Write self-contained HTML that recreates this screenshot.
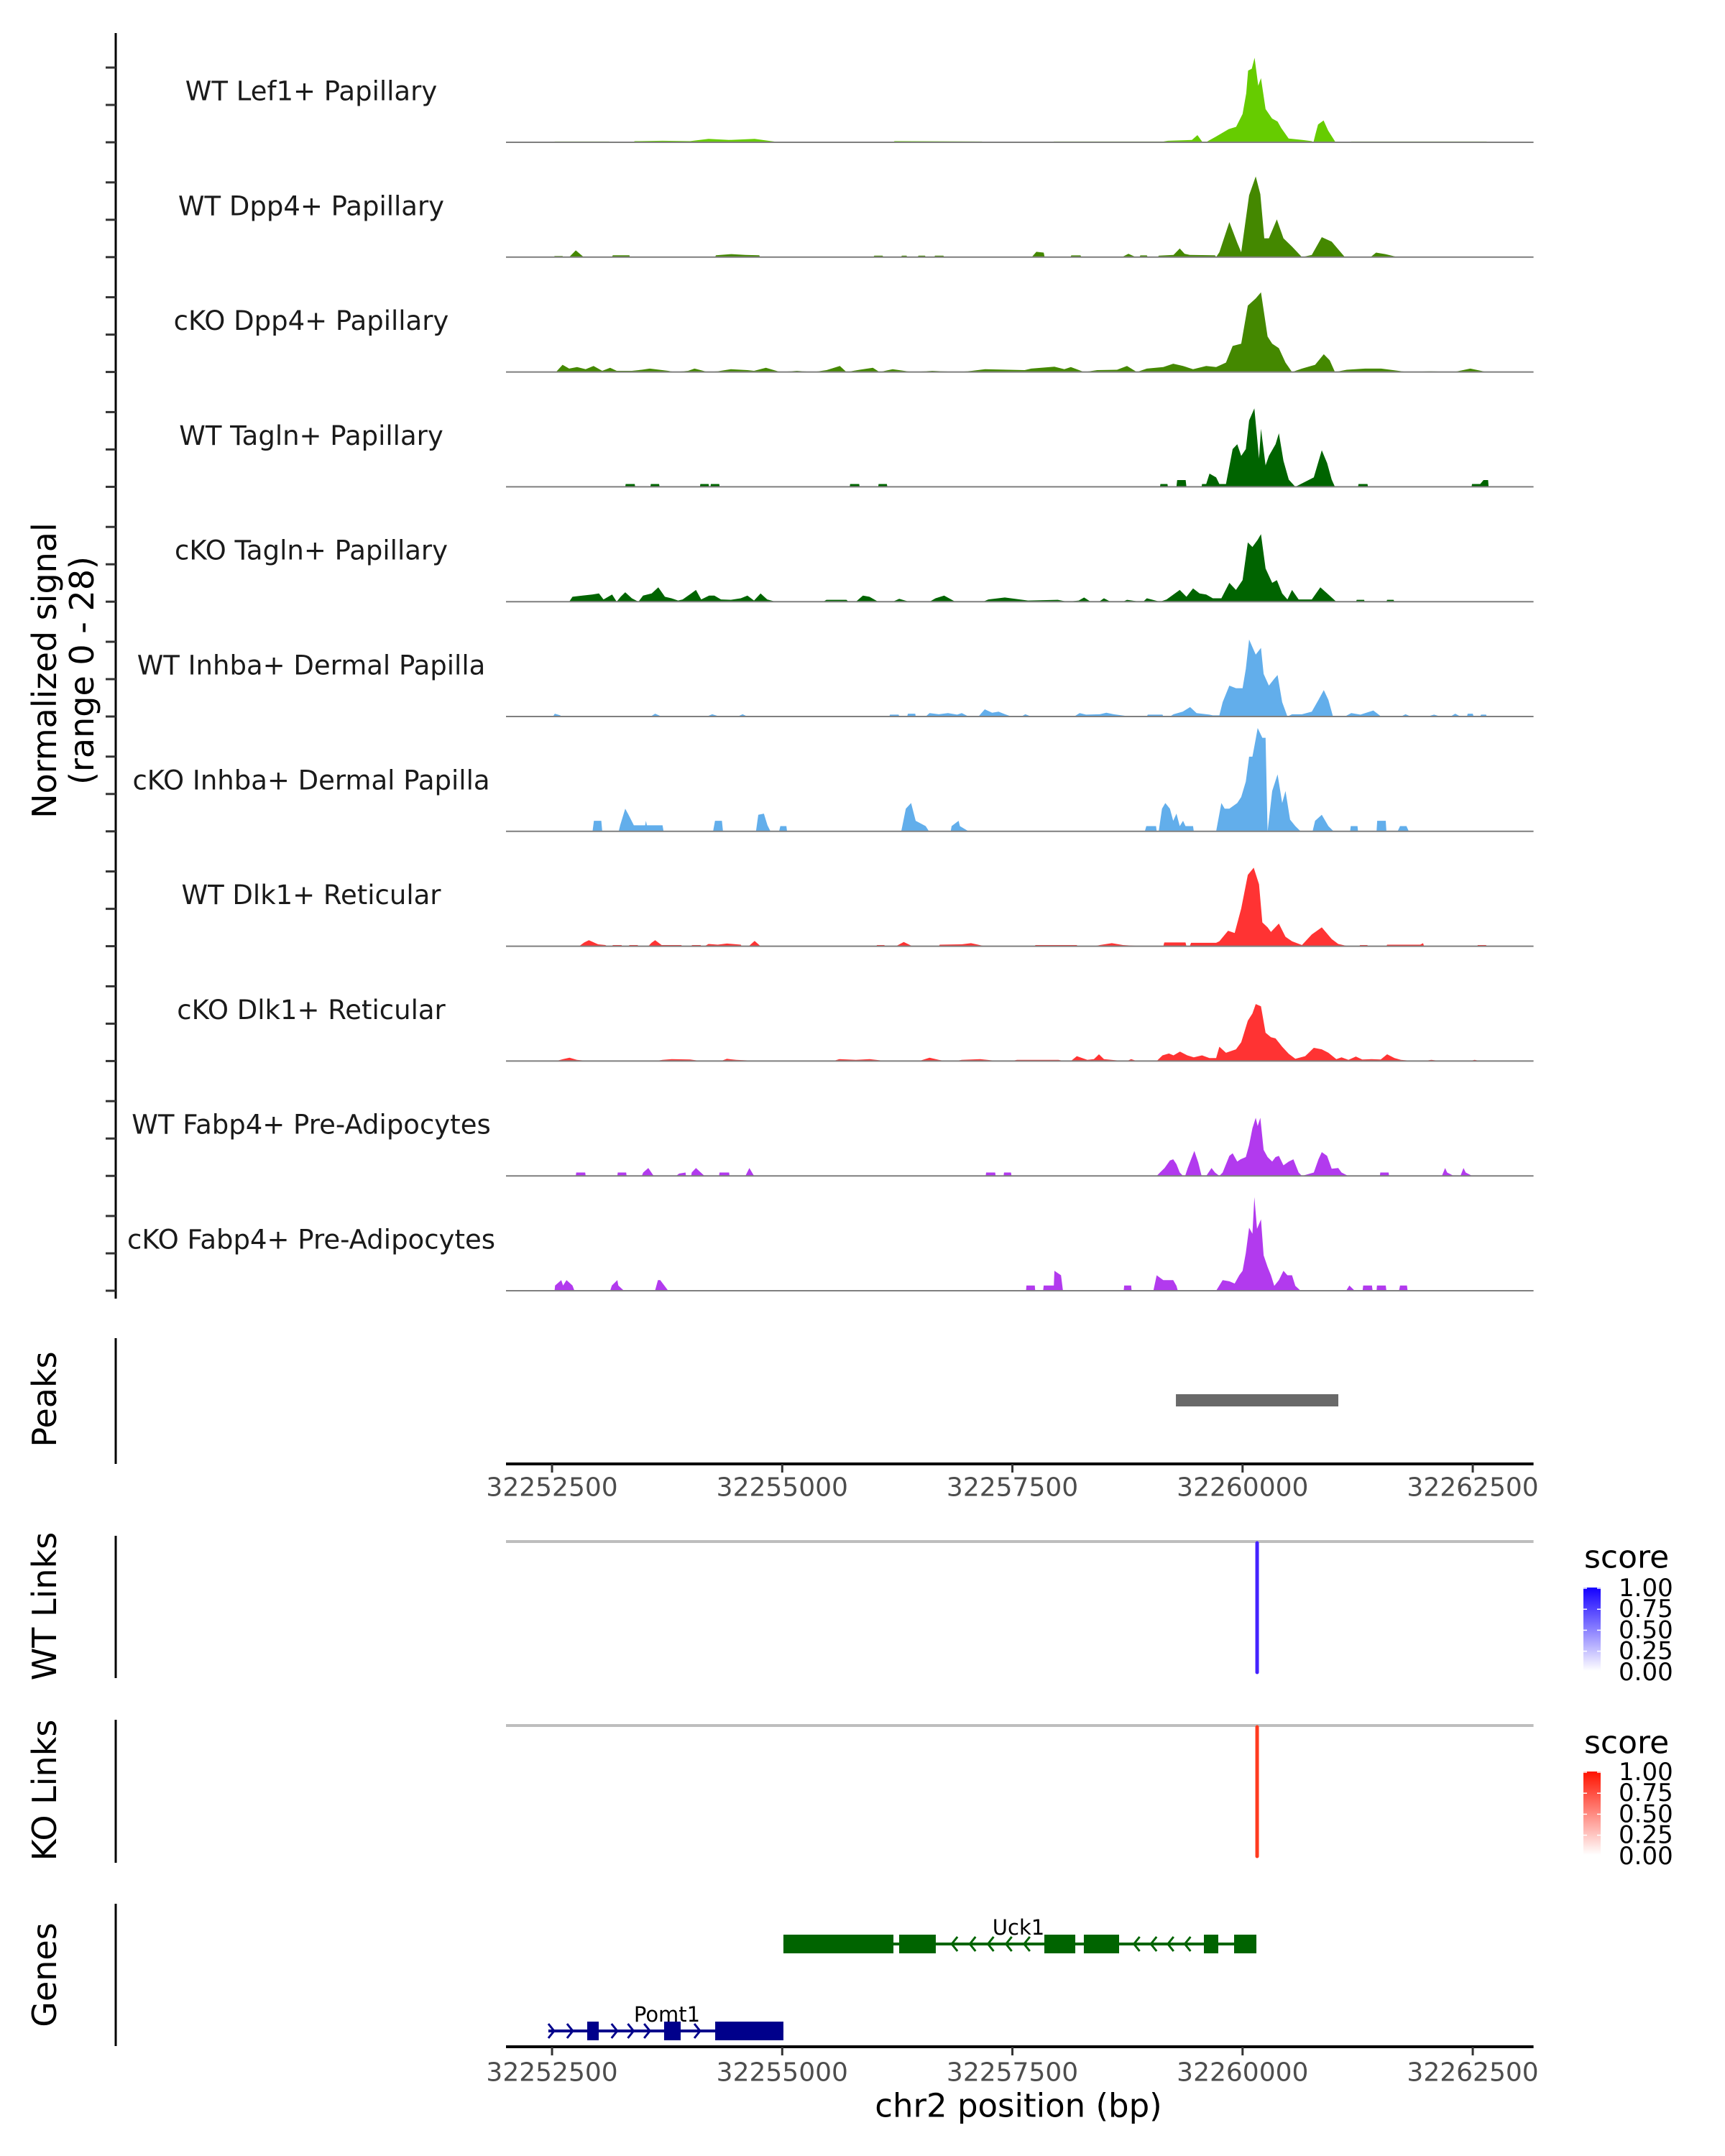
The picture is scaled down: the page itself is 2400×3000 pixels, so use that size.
<!DOCTYPE html>
<html><head><meta charset="utf-8"><style>
html,body{margin:0;padding:0;background:#fff;}
svg{display:block;font-family:"DejaVu Sans","Liberation Sans",sans-serif;}
</style></head><body>
<svg id="chart" width="2400" height="3000" viewBox="0 0 2400 3000" xmlns="http://www.w3.org/2000/svg">
<rect width="2400" height="3000" fill="#fff"/>
<g id="tracks"></g>
<line x1="161" y1="46" x2="161" y2="1807" stroke="#000" stroke-width="3"/>
<g id="yticks"></g>
<text transform="translate(62,933) rotate(-90)" text-anchor="middle" dominant-baseline="central" font-size="46" fill="#000">Normalized signal</text>
<text transform="translate(114,933) rotate(-90)" text-anchor="middle" dominant-baseline="central" font-size="46" fill="#000">(range 0 - 28)</text>

<line x1="161" y1="1862" x2="161" y2="2037" stroke="#000" stroke-width="3"/>
<text transform="translate(62,1947) rotate(-90)" text-anchor="middle" dominant-baseline="central" font-size="46">Peaks</text>
<g id="peaks"></g>
<g id="xaxis1"></g>

<line x1="161" y1="2137" x2="161" y2="2335" stroke="#000" stroke-width="3"/>
<text transform="translate(62,2235) rotate(-90)" text-anchor="middle" dominant-baseline="central" font-size="46">WT Links</text>
<line x1="161" y1="2393" x2="161" y2="2592" stroke="#000" stroke-width="3"/>
<text transform="translate(62,2491) rotate(-90)" text-anchor="middle" dominant-baseline="central" font-size="46">KO Links</text>
<g id="links"></g>

<defs>
<linearGradient id="gblue" x1="0" y1="1" x2="0" y2="0"><stop offset="0" stop-color="#ffffff"/><stop offset="1" stop-color="#1400ff"/></linearGradient>
<linearGradient id="gred" x1="0" y1="1" x2="0" y2="0"><stop offset="0" stop-color="#ffffff"/><stop offset="1" stop-color="#ff1200"/></linearGradient>
</defs>
<g id="legends"></g>

<line x1="161" y1="2649" x2="161" y2="2847" stroke="#000" stroke-width="3"/>
<text transform="translate(62,2748) rotate(-90)" text-anchor="middle" dominant-baseline="central" font-size="46">Genes</text>
<g id="genes"></g>
<g id="xaxis2"></g>
<text x="1417" y="2930" text-anchor="middle" dominant-baseline="central" font-size="45">chr2 position (bp)</text>
</svg>
<script>
// positions: bp offset from region start (chr2:32252000); values: normalized signal
const regionStart = 32252000;
const regionEnd = 32263160;
const trackNames = ["WT Lef1+ Papillary","WT Dpp4+ Papillary","cKO Dpp4+ Papillary","WT Tagln+ Papillary","cKO Tagln+ Papillary","WT Inhba+ Dermal Papilla","cKO Inhba+ Dermal Papilla","WT Dlk1+ Reticular","cKO Dlk1+ Reticular","WT Fabp4+ Pre-Adipocytes","cKO Fabp4+ Pre-Adipocytes"];
const trackColors = ["#66cc00","#448800","#448800","#006400","#006400","#62aeeb","#62aeeb","#ff3333","#ff3333","#b23aee","#b23aee"];
const xTicks = [32252500,32255000,32257500,32260000,32262500];
const yTickValues = [0,10,20];

const sigLef1WT = [[500,0],[530,0.2],[1120,0.2],[1130,0],[1370,0],[1400,0.3],[1700,0.4],[2000,0.3],[2200,0.9],[2420,0.6],[2700,0.9],[2850,0.4],[2980,0],[4200,0],[4220,0.3],[5170,0.2],[5200,0],[5920,0],[5950,0.2],[7140,0.2],[7190,0.4],[7450,0.6],[7510,1.9],[7560,0.2],[7600,0],[7710,1.5],[7850,3.5],[7930,4.1],[8000,7.5],[8040,13],[8060,19],[8100,19.5],[8130,22.4],[8170,15],[8200,17],[8250,8.8],[8320,6.3],[8380,5.5],[8420,3.8],[8500,1],[8650,0.6],[8750,0.3],[8770,0],[8790,2],[8820,4.7],[8880,5.8],[8930,3.1],[9010,0],[9150,0],[9180,0.2],[10650,0.2],[10680,0]];
const sigDpp4WT = [[520,0],[528,0.3],[614,0.3],[620,0],[686,0],[758,1.8],[844,0],[1150,0],[1160,0.5],[1340,0.5],[1346,0],[2270,0],[2280,0.5],[2450,0.8],[2600,0.6],[2750,0.5],[2760,0],[3990,0],[4000,0.4],[4090,0.4],[4100,0],[4290,0],[4300,0.4],[4350,0.4],[4360,0],[4470,0],[4480,0.4],[4550,0.4],[4560,0],[4650,0],[4660,0.4],[4750,0.4],[4760,0],[5710,0],[5760,1.4],[5840,1.2],[5850,0],[6130,0],[6140,0.45],[6240,0.45],[6250,0],[6690,0],[6760,0.9],[6840,0],[6880,0],[6890,0.45],[6960,0.45],[6970,0],[7080,0],[7090,0.4],[7250,0.6],[7318,2.3],[7370,0.9],[7426,0.6],[7700,0.5],[7713,0],[7748,1.3],[7856,9.3],[7942,3.8],[7985,1.3],[8071,16.4],[8143,21.4],[8193,16.7],[8236,5],[8286,5],[8372,10],[8444,5],[8537,2.8],[8645,0],[8752,0.6],[8860,5.3],[8968,4.1],[9111,0],[9390,0],[9450,1.2],[9550,0.8],[9684,0]];
const sigDpp4KO = [[543,0],[614,1.9],[686,0.9],[772,1.3],[865,0.75],[951,1.6],[1045,0.3],[1131,1.1],[1202,0.3],[1367,0.3],[1475,0.6],[1561,0.9],[1762,0.3],[1833,0],[1977,0.3],[2048,0.9],[2192,0],[2299,0.2],[2443,0.75],[2622,0.5],[2694,0.3],[2823,1.1],[2980,0],[3160,0.3],[3339,0],[3482,0.5],[3626,1.6],[3697,0],[3841,0.6],[3984,1.1],[4056,0],[4199,0.75],[4414,0],[4630,0.3],[4916,0],[5060,0.3],[5203,0.75],[5633,0.5],[5705,0.9],[5956,1.4],[6064,0.75],[6135,1.3],[6279,0],[6422,0.5],[6637,0.6],[6745,1.6],[6852,0],[6960,0.9],[7139,1.3],[7247,2.2],[7354,1.6],[7462,0.75],[7605,1.6],[7713,1.3],[7820,2.5],[7892,6.9],[7985,7.5],[8057,17.6],[8143,19.5],[8200,21.1],[8272,9.4],[8322,7.5],[8394,6.3],[8466,2.5],[8537,0],[8645,0.9],[8788,1.9],[8882,4.7],[8946,3.1],[9003,0],[9132,0.6],[9330,0.9],[9505,0.9],[9792,0],[10043,0.2],[10294,0],[10473,0.9],[10652,0]];
const sigTaglnWT = [[1295,0],[1300,0.75],[1398,0.75],[1403,0],[1568,0],[1573,0.75],[1663,0.75],[1668,0],[2106,0],[2111,0.75],[2201,0.75],[2206,0],[2220,0],[2225,0.75],[2316,0.75],[2321,0],[3733,0],[3738,0.75],[3836,0.75],[3841,0],[4042,0],[4047,0.75],[4137,0.75],[4142,0],[7103,0],[7108,0.75],[7184,0.75],[7189,0],[7282,0],[7290,1.8],[7382,1.8],[7390,0],[7555,0],[7560,0.75],[7605,0.75],[7641,3.5],[7713,2.5],[7748,0.75],[7820,0.75],[7892,10],[7942,11.3],[7985,8.2],[8035,10],[8071,17.6],[8128,20.8],[8179,7.5],[8200,15.4],[8250,5.7],[8286,8.2],[8358,11.3],[8394,14.2],[8444,6.9],[8502,1.9],[8573,0],[8774,2.5],[8860,9.7],[8918,6.3],[8968,1.9],[9003,0],[9254,0],[9259,0.75],[9357,0.75],[9362,0],[10487,0],[10492,0.75],[10581,0.75],[10617,1.8],[10667,1.8],[10672,0]];
const sigTaglnKO = [[686,0],[722,1.3],[829,1.6],[937,1.9],[1009,2.2],[1059,0.6],[1152,1.9],[1202,0],[1245,1.3],[1295,2.5],[1367,0.9],[1439,0],[1489,1.6],[1582,2.2],[1654,3.8],[1726,1.3],[1797,0.9],[1869,0.3],[1919,0.6],[2012,2.2],[2063,3.1],[2120,0.6],[2206,1.6],[2263,1.6],[2335,0.6],[2443,0.5],[2550,0.9],[2622,1.6],[2694,0.3],[2765,2.2],[2837,0.6],[2930,0],[3446,0],[3480,0.5],[3697,0.5],[3720,0],[3800,0],[3877,1.6],[3948,1.3],[4042,0],[4200,0],[4271,0.75],[4379,0],[4600,0],[4665,0.9],[4759,1.6],[4880,0],[5180,0],[5239,0.6],[5418,1.1],[5669,0.3],[5992,0.5],[6099,0],[6221,0.3],[6279,1.1],[6350,0],[6440,0],[6494,0.9],[6566,0],[6700,0],[6745,0.5],[6888,0],[6920,0],[6960,0.9],[7103,0],[7175,0.6],[7318,3.1],[7390,1.3],[7462,3.5],[7533,2.2],[7605,1.9],[7677,0.9],[7770,0.9],[7856,5],[7928,3.1],[8000,5.7],[8057,15.7],[8107,14.5],[8164,16.4],[8200,17.9],[8250,8.8],[8322,5],[8372,5.7],[8430,2.2],[8487,0.6],[8537,3.1],[8609,0.6],[8752,0.6],[8845,3.8],[8932,1.9],[9018,0],[9233,0],[9240,0.5],[9320,0.5],[9326,0],[9562,0],[9570,0.5],[9640,0.5],[9648,0]];
const sigInhbaWT = [[510,0],[530,0.75],[590,0.3],[600,0],[1570,0],[1620,0.75],[1690,0],[2180,0],[2240,0.6],[2320,0],[2515,0],[2570,0.6],[2622,0],[4163,0],[4170,0.5],[4265,0.5],[4271,0],[4357,0],[4365,0.75],[4445,0.75],[4450,0],[4558,0],[4600,0.9],[4700,0.6],[4800,0.9],[4900,0.5],[4950,0.9],[5024,0],[5131,0],[5200,1.9],[5280,1],[5350,1.3],[5420,0.6],[5490,0],[5597,0],[5640,0.6],[5705,0],[6171,0],[6230,0.9],[6300,0.5],[6450,0.6],[6520,1],[6600,0.6],[6780,0],[6960,0],[6970,0.5],[7130,0.5],[7139,0],[7211,0],[7250,0.6],[7350,1.3],[7430,2.5],[7500,0.9],[7641,0.5],[7677,0.3],[7748,0.3],[7784,3.8],[7856,8.2],[7928,7.5],[8000,7.5],[8035,12.6],[8071,20.4],[8143,16.4],[8200,18.2],[8229,11.3],[8286,8.2],[8344,10],[8380,11],[8430,3.8],[8487,0],[8537,0.6],[8645,0.6],[8752,1.3],[8824,4.4],[8882,7],[8932,4.4],[8982,0],[9111,0],[9180,0.9],[9280,0.5],[9420,1.6],[9505,0],[9720,0],[9770,0.6],[9828,0],[10007,0],[10080,0.5],[10150,0],[10258,0],[10310,0.75],[10366,0],[10437,0],[10445,0.75],[10500,0.75],[10509,0],[10581,0],[10590,0.5],[10645,0.5],[10652,0]];
const sigInhbaKO = [[940,0],[955,2.8],[1035,2.8],[1045,0],[1224,0],[1240,1.6],[1295,6],[1331,4.4],[1389,1.6],[1511,1.6],[1520,2.8],[1530,1.6],[1700,1.6],[1711,0],[2249,0],[2270,2.8],[2345,2.8],[2357,0],[2715,0],[2740,4.4],[2801,4.7],[2840,1.6],[2873,0],[2966,0],[2980,1.4],[3045,1.4],[3052,0],[4293,0],[4343,6],[4400,7.5],[4450,2.8],[4558,1.4],[4594,0],[4830,0],[4840,1.4],[4916,2.8],[4930,1.4],[5024,0],[6938,0],[6955,1.4],[7060,1.4],[7067,0],[7089,0],[7125,6],[7161,7.5],[7211,6],[7247,2.8],[7282,4.7],[7318,1.4],[7354,2.8],[7380,1.4],[7462,1.4],[7470,0],[7713,0],[7770,7.5],[7806,6],[7856,6],[7942,7.5],[7985,9.1],[8035,13.2],[8071,19.8],[8107,19.8],[8143,24.5],[8164,27.4],[8215,24.8],[8250,24.8],[8272,0],[8322,10.7],[8380,15.1],[8430,7.5],[8466,10.7],[8516,3.1],[8573,1.4],[8631,0],[8760,0],[8788,2.8],[8860,4.4],[8932,1.4],[8989,0],[9168,0],[9175,1.4],[9248,1.4],[9254,0],[9455,0],[9462,2.8],[9555,2.8],[9562,0],[9684,0],[9710,1.4],[9780,1.4],[9806,0]];
const sigDlk1WT = [[794,0],[850,1],[900,1.6],[1000,0.5],[1080,0.3],[1100,0],[1152,0],[1160,0.3],[1255,0.3],[1260,0],[1331,0],[1340,0.3],[1430,0.3],[1439,0],[1546,0],[1580,0.9],[1620,1.6],[1690,0.3],[1726,0.3],[1905,0.3],[1910,0],[2012,0],[2020,0.3],[2115,0.3],[2120,0],[2156,0],[2200,0.6],[2300,0.4],[2400,0.7],[2550,0.4],[2560,0],[2636,0],[2700,1.4],[2765,0],[4020,0],[4030,0.3],[4110,0.3],[4113,0],[4235,0],[4320,1.1],[4414,0],[4701,0],[4710,0.4],[4950,0.5],[5050,0.8],[5203,0],[5741,0],[5750,0.3],[6200,0.3],[6207,0],[6386,0],[6450,0.3],[6580,0.8],[6700,0.3],[6924,0],[7139,0],[7150,1],[7380,1],[7390,0],[7426,0],[7440,0.9],[7713,0.9],[7748,1.3],[7842,4.1],[7914,3.5],[7985,10],[8057,18.9],[8121,20.8],[8179,16.4],[8215,6.3],[8272,5],[8308,3.8],[8394,6],[8466,2.5],[8537,1.3],[8645,0.3],[8752,3.1],[8860,5],[8968,1.9],[9039,0.6],[9147,0],[9269,0],[9275,0.3],[9355,0.3],[9362,0],[9562,0],[9570,0.4],[9930,0.4],[9960,0.8],[9971,0],[10545,0],[10555,0.3],[10645,0.3],[10652,0]];
const sigDlk1KO = [[543,0],[620,0.5],[690,0.9],[770,0.3],[901,0],[1618,0],[1700,0.3],[1800,0.5],[2000,0.4],[2120,0],[2335,0],[2400,0.6],[2500,0.3],[2765,0],[3554,0],[3620,0.5],[3800,0.3],[3950,0.5],[4128,0],[4486,0],[4600,0.9],[4700,0.3],[4773,0],[4880,0],[4950,0.3],[5150,0.5],[5347,0],[5490,0],[5550,0.3],[6000,0.3],[6064,0],[6135,0],[6200,1.3],[6314,0.3],[6386,0.5],[6440,1.8],[6494,0.5],[6709,0],[6745,0],[6790,0.5],[6852,0],[7067,0],[7130,1.5],[7200,2],[7250,1.5],[7320,2.5],[7400,1.5],[7470,1],[7560,1.5],[7640,0.8],[7713,0.8],[7748,3.8],[7820,2.2],[7928,3.1],[7985,5],[8057,10.7],[8107,12.6],[8143,15.1],[8200,14.5],[8250,7.5],[8308,6.3],[8358,6],[8430,3.8],[8502,1.9],[8573,0.6],[8680,1.3],[8774,3.5],[8860,3.1],[8932,2.2],[9018,0.5],[9075,1],[9150,0.3],[9230,1.2],[9300,0.4],[9400,0.5],[9500,0.4],[9570,1.8],[9650,0.8],[9720,0.3],[9864,0],[9970,0],[10050,0.3],[10150,0],[10473,0],[10520,0.3],[10581,0]];
const sigFabp4WT = [[758,0],[763,0.9],[860,0.9],[865,0],[1209,0],[1214,0.9],[1305,0.9],[1310,0],[1475,0],[1490,0.9],[1546,2.1],[1604,0],[1848,0],[1880,0.6],[1950,0.9],[1955,0],[2012,0],[2017,0.9],[2063,2.1],[2156,0],[2314,0],[2319,0.9],[2423,0.9],[2428,0],[2600,0],[2643,2.1],[2694,0],[5210,0],[5215,0.9],[5313,0.9],[5318,0],[5404,0],[5409,0.9],[5485,0.9],[5490,0],[7067,0],[7103,0.9],[7153,2.1],[7211,4.1],[7247,4.4],[7282,3.1],[7318,0.9],[7354,0],[7376,0],[7404,2.1],[7440,4.4],[7476,6.6],[7519,3.5],[7555,0],[7605,0],[7630,0.9],[7663,2.1],[7700,0.9],[7748,0],[7784,0.9],[7856,5.3],[7892,6],[7942,3.8],[7978,4.4],[8035,5],[8071,8.2],[8107,12.6],[8143,15.4],[8164,13.2],[8193,15.4],[8229,6.9],[8272,5],[8322,3.8],[8358,5],[8394,5.3],[8444,2.8],[8502,3.8],[8552,4.4],[8609,0.9],[8645,0],[8774,0.9],[8824,4.4],[8860,6.3],[8918,5.3],[8968,1.9],[9039,2.1],[9075,0.9],[9147,0],[9491,0],[9496,0.9],[9586,0.9],[9591,0],[10165,0],[10200,2.1],[10222,0.9],[10294,0],[10366,0],[10400,2.1],[10423,0.9],[10495,0]];
const sigFabp4KO = [[528,0],[533,1.4],[600,2.8],[620,1.4],[657,2.8],[722,1.4],[743,0],[1131,0],[1150,1.4],[1209,2.8],[1220,1.4],[1281,0],[1618,0],[1650,2.8],[1675,2.8],[1762,0],[5648,0],[5653,1.4],[5743,1.4],[5748,0],[5834,0],[5840,1.4],[5950,1.4],[5956,5.3],[6028,4.1],[6049,0],[6709,0],[6714,1.4],[6790,1.4],[6795,0],[7031,0],[7067,4.1],[7139,2.8],[7197,2.8],[7247,2.8],[7282,1.3],[7297,0],[7713,0],[7784,2.8],[7856,2.5],[7914,1.9],[7964,4.1],[8000,5.3],[8035,10],[8071,16.7],[8107,15.1],[8128,24.8],[8157,16.4],[8200,18.9],[8229,9.4],[8272,6.3],[8308,4.1],[8344,1.3],[8394,2.8],[8444,5.3],[8487,4.1],[8537,4.1],[8573,1.3],[8631,0],[9125,0],[9160,1.4],[9218,0],[9304,0],[9310,1.4],[9405,1.4],[9412,0],[9455,0],[9460,1.4],[9555,1.4],[9562,0],[9699,0],[9710,1.4],[9785,1.4],[9792,0]];
const trackSignals = [sigLef1WT,sigDpp4WT,sigDpp4KO,sigTaglnWT,sigTaglnKO,sigInhbaWT,sigInhbaKO,sigDlk1WT,sigDlk1KO,sigFabp4WT,sigFabp4KO];

const peakRanges = [[32259276,32261040]];
const linkWT = [32260158];
const linkKO = [32260158];
const legendLabels = ["1.00","0.75","0.50","0.25","0.00"];
const uck1Exons = [[32255013,32256208],[32256270,32256668],[32257847,32258183],[32258276,32258659],[32259580,32259736],[32259908,32260150]];
const pomt1Exons = [[32252882,32253007],[32253717,32253897],[32254272,32255013]];
const uck1Span = [32255013,32260150];
const pomt1Span = [32252460,32255013];

const NS = "http://www.w3.org/2000/svg";
const PX0 = 704, PX1 = 704 + (regionEnd - regionStart) * 0.1281;
function xs(bp){ return PX0 + (bp - regionStart) / (regionEnd - regionStart) * (PX1 - PX0); }
const UNIT = 5.25;
function baselineOf(i){ return 198 + 159.8 * i; }
function ys(i, v){ return baselineOf(i) - v * UNIT; }
function mk(tag, attrs, parent){ const e = document.createElementNS(NS, tag); for (const k in attrs) e.setAttribute(k, attrs[k]); parent.appendChild(e); return e; }

const gT = document.getElementById('tracks');
const gY = document.getElementById('yticks');
trackNames.forEach((name, i) => {
  const b = baselineOf(i);
  const data = trackSignals[i];
  let d = 'M' + xs(regionStart + data[0][0]).toFixed(1) + ',' + b;
  data.forEach(p => { d += 'L' + xs(regionStart + p[0]).toFixed(1) + ',' + ys(i, p[1]).toFixed(1); });
  d += 'L' + xs(regionStart + data[data.length-1][0]).toFixed(1) + ',' + b + 'Z';
  const area = mk('path', {d: d, fill: trackColors[i]}, gT);
  
  
  const bl = mk('line', {x1: PX0, x2: PX1, y1: b, y2: b, stroke: '#7f7f7f', 'stroke-width': 2}, gT);
  
  
  const lab = mk('text', {x: 433, y: b - 71, 'text-anchor': 'middle', 'dominant-baseline': 'central', 'font-size': 37, fill: '#1a1a1a'}, gT);
  lab.textContent = name;
  
  
  yTickValues.forEach(v => {
    const t = mk('line', {x1: 147, x2: 161, y1: ys(i, v * 5.2 / UNIT), y2: ys(i, v * 5.2 / UNIT), stroke: '#333', 'stroke-width': 3}, gY);
    
    
  });
});

const gP = document.getElementById('peaks');
peakRanges.forEach(r => {
  const pk = mk('rect', {x: xs(r[0]), y: 1940, width: xs(r[1]) - xs(r[0]), height: 17, fill: '#696969'}, gP);
  
  
});

function xAxis(gid, y, labelY){
  const g = document.getElementById(gid);
  const ax = mk('line', {x1: PX0, x2: PX1, y1: y, y2: y, stroke: '#000', 'stroke-width': 4}, g);
  
  
  xTicks.forEach(t => {
    const tk = mk('line', {x1: xs(t), x2: xs(t), y1: y, y2: y + 12, stroke: '#333', 'stroke-width': 3}, g);
    
    
    const tl = mk('text', {x: xs(t), y: labelY, 'text-anchor': 'middle', 'dominant-baseline': 'central', 'font-size': 36, fill: '#4d4d4d'}, g);
    tl.textContent = t;
    
    
  });
}
xAxis('xaxis1', 2037, 2070);
xAxis('xaxis2', 2848, 2884);

const gL = document.getElementById('links');
[[linkWT, 2145, '#4422ff'], [linkKO, 2401, '#ff3b1f']].forEach(([arr, top, col]) => {
  const gl = mk('line', {x1: PX0, x2: PX1, y1: top, y2: top, stroke: '#bebebe', 'stroke-width': 4}, gL);
  
  
  arr.forEach(p => {
    const ln = mk('line', {x1: xs(p), x2: xs(p), y1: top + 2, y2: top + 182, stroke: col, 'stroke-width': 5, 'stroke-linecap': 'round'}, gL);
    
    
  });
});

const gLg = document.getElementById('legends');
[[2167, 2209, 'url(#gblue)'], [2425, 2465, 'url(#gred)']].forEach(([ty, by, fillG]) => {
  const st = mk('text', {x: 2204, y: ty, 'dominant-baseline': 'central', 'font-size': 44, fill: '#000'}, gLg);
  st.textContent = 'score';
  
  
  const bar = mk('rect', {x: 2203, y: by, width: 24, height: 116, fill: fillG}, gLg);
  
  
  legendLabels.forEach((l, k) => {
    const yy = by + 1 + k * 29.2;
    const tk = mk('line', {x1: 2203, x2: 2208, y1: yy, y2: yy, stroke: '#fff', 'stroke-width': 1.5}, gLg);
    
    
    const tk2 = mk('line', {x1: 2222, x2: 2227, y1: yy, y2: yy, stroke: '#fff', 'stroke-width': 1.5}, gLg);
    
    
    const tl = mk('text', {x: 2252, y: yy, 'dominant-baseline': 'central', 'font-size': 34, fill: '#000'}, gLg);
    tl.textContent = l;
    
    
  });
});

const gG = document.getElementById('genes');
function drawGene(name, span, exons, cy, col, dir, labelX, labelY){
  const line = mk('line', {x1: xs(span[0]), x2: xs(span[1]), y1: cy, y2: cy, stroke: col, 'stroke-width': 4}, gG);
  
  
  for (let i = 0; i < exons.length - 1; i++) {
    const a = xs(exons[i][1]), b = xs(exons[i+1][0]);
    const n = Math.floor((b - a) / 26);
    for (let k = 1; k <= n; k++) {
      const cx = a + (b - a) * k / (n + 1);
      const d = dir > 0 ? `M${cx-5},${cy-10}L${cx+3},${cy}L${cx-5},${cy+10}` : `M${cx+5},${cy-10}L${cx-3},${cy}L${cx+5},${cy+10}`;
      const ch = mk('path', {d: d, stroke: col, 'stroke-width': 3, fill: 'none'}, gG);
      
      
    }
  }
  if (dir > 0) {
    const a = xs(span[0]), b = xs(exons[0][0]);
    for (let cx = a + 5; cx < b - 4; cx += 26) {
      const ch = mk('path', {d: `M${cx-5},${cy-10}L${cx+3},${cy}L${cx-5},${cy+10}`, stroke: col, 'stroke-width': 3, fill: 'none'}, gG);
      
      
    }
  }
  exons.forEach(e => {
    const r = mk('rect', {x: xs(e[0]), y: cy - 13, width: xs(e[1]) - xs(e[0]), height: 26, fill: col}, gG);
    
    
  });
  const t = mk('text', {x: labelX, y: labelY, 'text-anchor': 'middle', 'dominant-baseline': 'central', 'font-size': 29, fill: '#000'}, gG);
  t.textContent = name;
  
  
}
drawGene('Uck1', uck1Span, uck1Exons, 2705, '#006400', -1, 1417, 2682);
drawGene('Pomt1', pomt1Span, pomt1Exons, 2826, '#00008b', 1, 928, 2803);
</script>
</body></html>
